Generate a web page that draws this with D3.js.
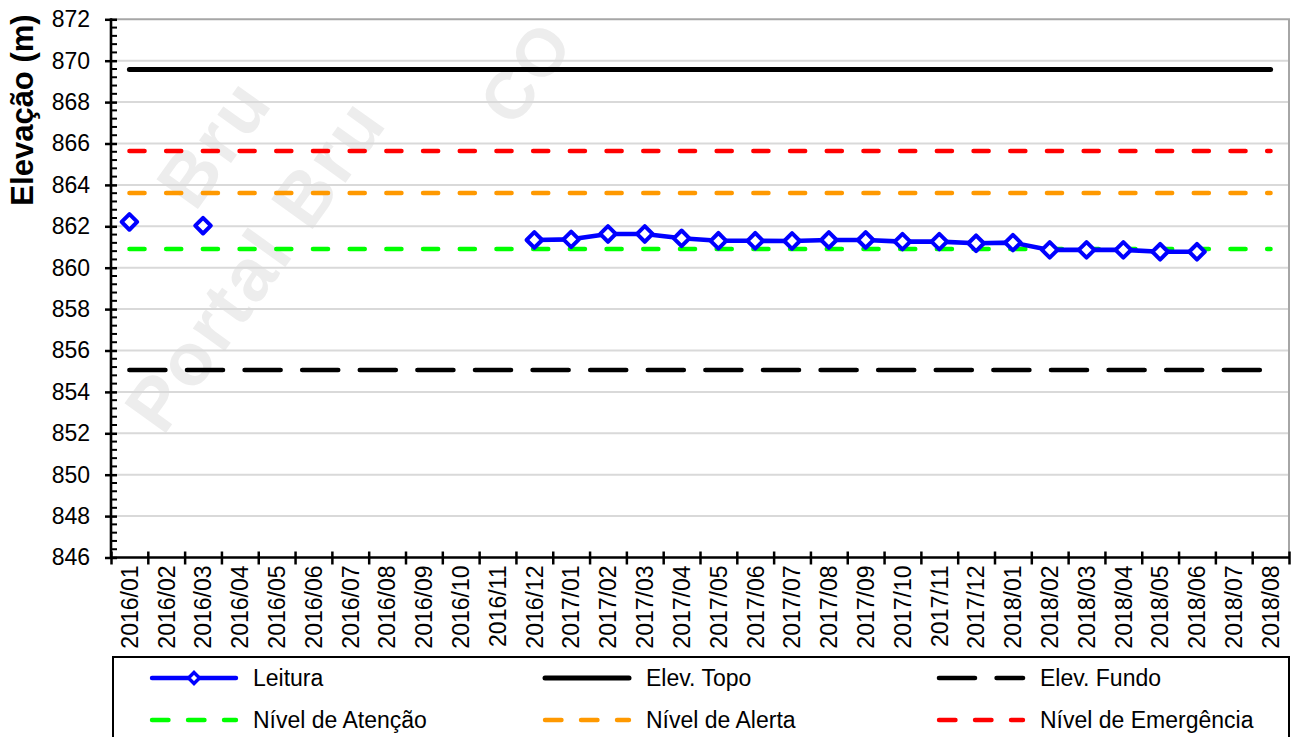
<!DOCTYPE html>
<html><head><meta charset="utf-8">
<script src="https://cdn.jsdelivr.net/npm/d3@7"></script>
<style>
body{margin:0;background:#fff}
svg{display:block}
text{font-family:"Liberation Sans",Arial,Helvetica,sans-serif;fill:#000}
</style>
</head><body>
<svg id="chart" width="1298" height="737"></svg>
<script>
// ---------- data ----------
const categories = ["2016/01","2016/02","2016/03","2016/04","2016/05","2016/06","2016/07","2016/08",
  "2016/09","2016/10","2016/11","2016/12","2017/01","2017/02","2017/03","2017/04","2017/05","2017/06",
  "2017/07","2017/08","2017/09","2017/10","2017/11","2017/12","2018/01","2018/02","2018/03","2018/04",
  "2018/05","2018/06","2018/07","2018/08"];
const leitura = [862.21,null,862.03,null,null,null,null,null,null,null,null,861.34,861.37,861.63,861.63,
  861.42,861.30,861.30,861.29,861.34,861.34,861.26,861.26,861.18,861.21,860.86,860.86,860.86,860.77,860.77,null,null];
const elevTopo = 869.58;
const elevFundo = 855.06;
const nivelAtencao = 860.90;
const nivelAlerta = 863.61;
const nivelEmergencia = 865.64;
const yTickValues = [846,848,850,852,854,856,858,860,862,864,866,868,870,872];
const yTitle = "Elevação (m)";
const legendNames = ["Leitura","Elev. Topo","Elev. Fundo","Nível de Atenção","Nível de Alerta","Nível de Emergência"];
const watermarkTexts = ["Portal Bru","Bru","CO"];

// ---------- layout ----------
const svg = d3.select("#chart");
const L = 111, R = 1289, T = 19.3, B = 557.5;
const FS = "23px";
const y = d3.scaleLinear().domain([846, 872]).range([B, T]);
const x = d3.scaleBand().domain(categories).range([L, R]).padding(0);
const xb = d3.scaleLinear().domain([0, categories.length]).range([L, R]);
const cx = c => x(c) + x.bandwidth() / 2;

// watermark (faint)
const wm = svg.append("g").style("font-weight", "bold").style("letter-spacing", "3px");
[[watermarkTexts[0], 163, 437, 74], [watermarkTexts[1], 195, 213, 74], [watermarkTexts[2], 514, 129, 67]].forEach(([t, px, py, fs]) => {
  wm.append("text").attr("transform", `translate(${px},${py}) rotate(-54.3)`).text(t)
    .style("font-size", fs + "px").style("fill", "#ededed");
});

// gridlines
svg.append("g").selectAll("line").data(yTickValues.filter(v => v !== 872 && v !== 846)).join("line")
  .attr("x1", L).attr("x2", R).attr("y1", d => y(d)).attr("y2", d => y(d))
  .attr("stroke", "#d9d9d9").attr("stroke-width", 2);
// plot border top/right
svg.append("path").attr("d", `M${L},${y(872)}H${R}V${B}`).attr("fill", "none")
  .attr("stroke", "#a6a6a6").attr("stroke-width", 2);

// ---------- reference lines ----------
const refLine = v => d3.line().x(c => cx(c)).y(() => y(v))(categories);
const refs = [
  {v: elevTopo, color: "#000000", w: 5, dash: null},
  {v: elevFundo, color: "#000000", w: 4.6, dash: "36,21.6"},
  {v: nivelAtencao, color: "#00ff00", w: 4.4, dash: "15.2,21.5"},
  {v: nivelAlerta, color: "#ff9900", w: 4.4, dash: "15.2,21.5"},
  {v: nivelEmergencia, color: "#ff0000", w: 4.4, dash: "15.2,21.5"},
];
refs.forEach(r => {
  svg.append("path").attr("d", refLine(r.v)).attr("fill", "none")
    .attr("stroke", r.color).attr("stroke-width", r.w)
    .attr("stroke-dasharray", r.dash).attr("stroke-linecap", "round");
});

// ---------- Leitura series ----------
const pts = categories.map((c, i) => ({c, v: leitura[i]}));
svg.append("path")
  .attr("d", d3.line().defined(d => d.v !== null).x(d => cx(d.c)).y(d => y(d.v))(pts))
  .attr("fill", "none").attr("stroke", "#0000ff").attr("stroke-width", 4.6).attr("stroke-linejoin", "round");
const diamond = s => `M0,${-s}L${s},0L0,${s}L${-s},0Z`;
svg.append("g").selectAll("path").data(pts.filter(d => d.v !== null)).join("path")
  .attr("transform", d => `translate(${cx(d.c)},${y(d.v)})`)
  .attr("d", diamond(7.8)).attr("fill", "#fff").attr("stroke", "#0000ff").attr("stroke-width", 4)
  .attr("stroke-linejoin", "round");

// ---------- axes ----------
const yAxis = svg.append("g").attr("transform", `translate(${L},0)`)
  .call(d3.axisLeft(y).tickValues(yTickValues).tickSizeInner(6).tickSizeOuter(0).tickPadding(15).tickFormat(d3.format("d")));
yAxis.select(".domain").remove();
yAxis.selectAll(".tick line").attr("x1", 6).attr("x2", -6).attr("stroke", "#000").attr("stroke-width", 2.5);
yAxis.selectAll(".tick text").style("font-size", FS).attr("fill", "#000");

// minor ticks
const minorTicks = d3.range(846, 872, 0.4).filter(v => Math.abs(Math.round(v / 2) * 2 - v) > 0.01);
svg.append("g").attr("transform", `translate(${L},0)`).selectAll("line").data(minorTicks).join("line")
  .attr("x1", 0).attr("x2", 6).attr("y1", d => y(d)).attr("y2", d => y(d))
  .attr("stroke", "#000").attr("stroke-width", 2);
svg.append("line").attr("x1", L).attr("x2", L).attr("y1", T - 1).attr("y2", B + 1)
  .attr("stroke", "#000").attr("stroke-width", 2.6);

// x axis ticks at boundaries
const xTickAxis = svg.append("g").attr("transform", `translate(0,${B})`)
  .call(d3.axisBottom(xb).tickValues(d3.range(0, categories.length + 1)).tickSize(7).tickFormat(""));
xTickAxis.select(".domain").remove();
xTickAxis.selectAll(".tick line").attr("y1", -6).attr("y2", 7).attr("stroke", "#000").attr("stroke-width", 2.5);
svg.append("line").attr("x1", L).attr("x2", R).attr("y1", B).attr("y2", B)
  .attr("stroke", "#000").attr("stroke-width", 2.6);

// x labels
const xAxis = svg.append("g").attr("transform", `translate(0,${B})`)
  .call(d3.axisBottom(x).tickSize(0).tickPadding(0));
xAxis.select(".domain").remove();
xAxis.selectAll(".tick text")
  .attr("transform", "translate(0,8) rotate(-90)")
  .attr("text-anchor", "end").attr("x", 0).attr("y", 0).attr("dy", "0.36em")
  .style("font-size", FS).attr("fill", "#000");

// y title
svg.append("text").attr("transform", `translate(33,110) rotate(-90)`)
  .attr("text-anchor", "middle").style("font-size", "31px").style("font-weight", "bold").text(yTitle);

// ---------- legend ----------
const lg = svg.append("g");
lg.append("rect").attr("x", 113).attr("y", 657).attr("width", 1176).attr("height", 100)
  .attr("fill", "#fff").attr("stroke", "#000").attr("stroke-width", 2);
const legendStyles = [
  {color: "#0000ff", w: 4.4, dash: null, marker: true},
  {color: "#000000", w: 5, dash: null},
  {color: "#000000", w: 4.6, dash: "36,21.6"},
  {color: "#00ff00", w: 4.4, dash: "16.5,19.5"},
  {color: "#ff9900", w: 4.4, dash: "16.5,19.5"},
  {color: "#ff0000", w: 4.4, dash: "16.5,19.5"},
];
const colX = [152, 545, 939], rowY = [678, 720];
legendNames.forEach((name, i) => {
  const sx = colX[i % 3], sy = rowY[Math.floor(i / 3)], st = legendStyles[i];
  lg.append("line").attr("x1", sx).attr("x2", sx + 84).attr("y1", sy).attr("y2", sy)
    .attr("stroke", st.color).attr("stroke-width", st.w).attr("stroke-dasharray", st.dash)
    .attr("stroke-linecap", "round");
  if (st.marker) {
    lg.append("path").attr("transform", `translate(${sx + 42},${sy})`).attr("d", diamond(5.5))
      .attr("fill", "#fff").attr("stroke", st.color).attr("stroke-width", 3.4);
  }
  lg.append("text").attr("x", sx + 101).attr("y", sy).attr("dy", "0.36em")
    .style("font-size", FS).text(name);
});
</script>
</body></html>
